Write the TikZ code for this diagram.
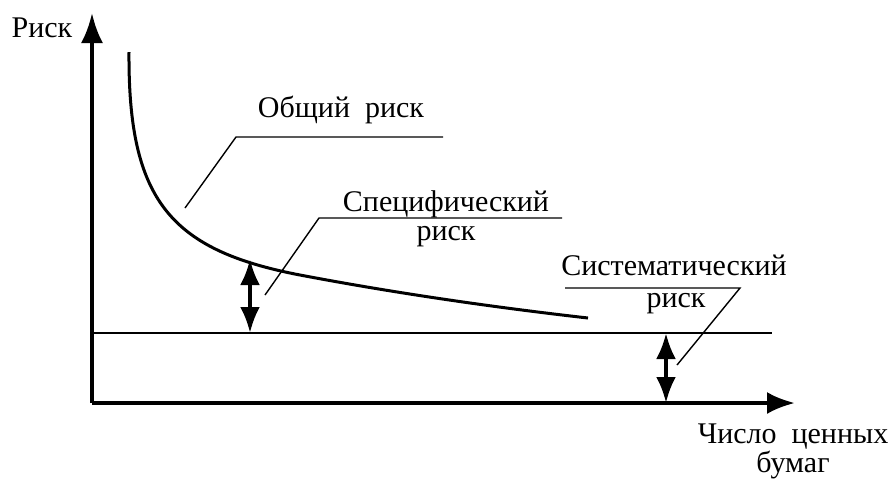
\documentclass[tikz,border=0pt]{standalone}
\usepackage{fontspec}
\setmainfont{Liberation Serif}
\usetikzlibrary{arrows.meta}
\tikzset{
	lbl/.style={anchor=base, inner sep=0pt, font=\fontsize{15}{15}\selectfont},
	leader/.style={line width=0.7pt},
	gap/.style={line width=2pt, {Latex[length=13pt,width=10pt]}-{Latex[length=13pt,width=10pt]}}
}
\begin{document}
\begin{tikzpicture}[x=0.5pt, y=-0.5pt]
		%%%%% START %%%%%
		\useasboundingbox (0, 0) rectangle (892, 479);
		
		\coordinate (O) at (92, 403);
		\coordinate (ytip) at (92, 13);
		\coordinate (xtip) at (795, 403);
		\draw[line width=2pt, -{Latex[length=15pt,width=11pt]}] (O) -- (ytip);
		\draw[line width=2pt, -{Latex[length=14pt,width=11pt]}] (O) -- (xtip);
		
		% systematic level
		\coordinate (sysL) at (92, 333);
		\coordinate (sysR) at (772, 333);
		\draw[line width=0.8pt] (sysL) -- (sysR);
		
		% total risk curve
		\coordinate (cStart) at (129, 52);
		\coordinate (cMid) at (300, 275);
		\coordinate (cEnd) at (588, 318);
		\draw[line width=1.5pt] (cStart) .. controls (128, 200) and (170, 250) .. (cMid) .. controls (400, 294) and (500, 308) .. (cEnd);
		
		\coordinate (specTop) at (250, 259);
		\coordinate (specBot) at (250, 333);
		\draw[gap] (specBot) -- (specTop);
		\coordinate (sysTop) at (666, 333);
		\coordinate (sysBot) at (666, 403);
		\draw[gap] (sysBot) -- (sysTop);
		
		% labels
		\node[lbl] (risk) at (42, 37) {Риск};
		\node[lbl] (total) at (341, 117) {Общий\ \ риск};
		\node[lbl] (spec) at (446, 211) {Специфический};
		\node[lbl] (specrisk) at (446, 240) {риск};
		\node[lbl] (sys) at (674, 275) {Систематический};
		\node[lbl] (sysrisk) at (676, 307) {риск};
		\node[lbl] (num) at (793, 443) {Число\ \ ценных};
		\node[lbl] (papers) at (793, 472) {бумаг};
		
		% leaders
		\draw[leader] (185, 208) -- (236, 137) -- (443, 137);
		\draw[leader] (265, 295) -- (319, 218) -- (562, 218);
		\draw[leader] (677, 365) -- (740, 288) -- (565, 288);
		
		%%%%% END %%%%%
	\end{tikzpicture}
\end{document}
